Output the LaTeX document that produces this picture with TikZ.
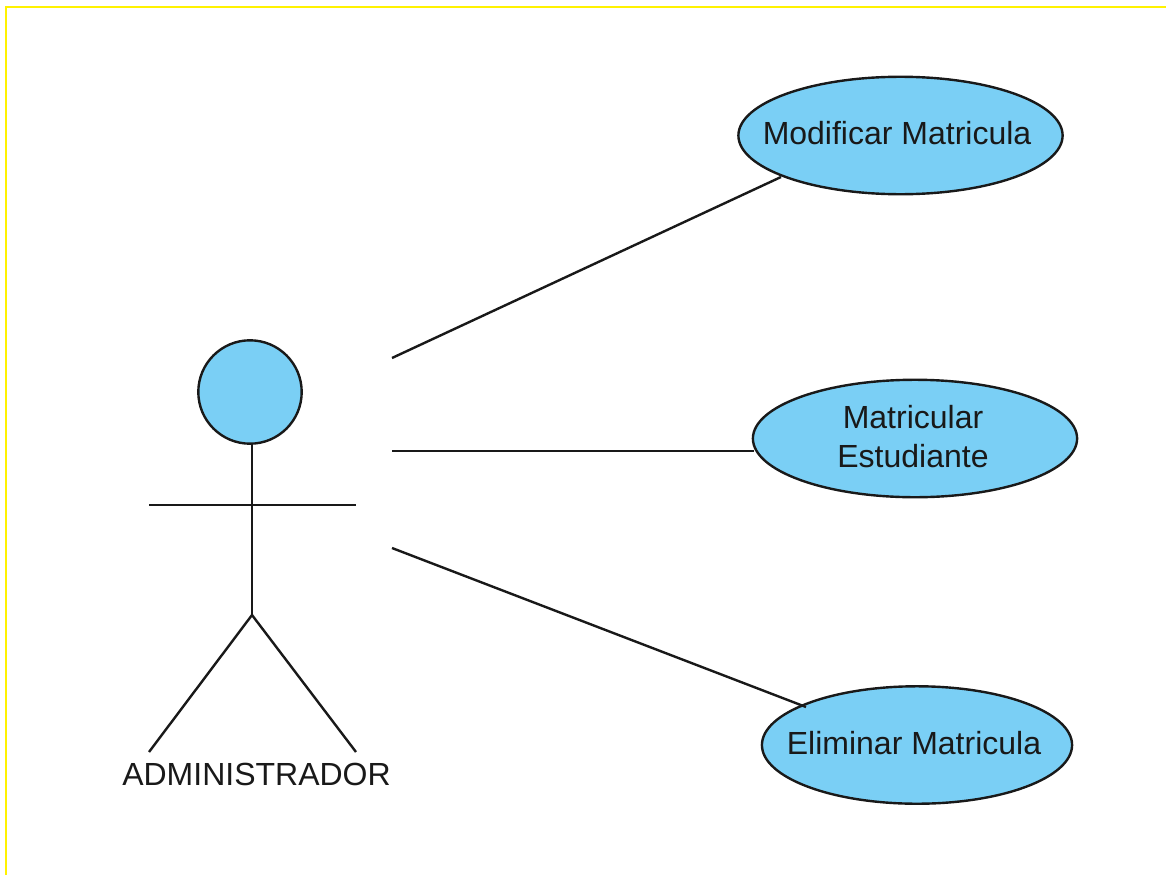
\documentclass[tikz,border=0pt]{standalone}
\usepackage{fontspec}
\setmainfont{Liberation Sans}
\usetikzlibrary{shapes.geometric}
\definecolor{fillblue}{RGB}{122,207,245}
\definecolor{ink}{RGB}{25,25,25}
\newcommand{\uctext}[3]{\raisebox{#2}[0pt][0pt]{\makebox[0pt]{\kern#1\begin{tabular}[b]{@{}c@{}}#3\end{tabular}}}}
\tikzset{x=1pt,y=-1pt,
  usecase/.style={ellipse,draw=ink,fill=fillblue,line width=2.4pt,inner sep=0pt,font=\fontsize{32}{39}\selectfont,text=ink},
  limb/.style={draw=ink,line width=2.4pt},
  assoc/.style={draw=ink,line width=2.4pt}}
\begin{document}
\begin{tikzpicture}
\useasboundingbox (0,0) rectangle (1166,875);
\fill[white] (0,0) rectangle (1166,875);
\draw[yellow,line width=2.8pt] (6,875) -- (6,7) -- (1166,7);
\node[usecase,minimum width=323bp,minimum height=117bp] (mod) at (900.5,135.5) {\uctext{-7pt}{-9pt}{Modificar Matricula}};
\node[usecase,minimum width=323bp,minimum height=117bp] (mat) at (915,438.5) {\uctext{-4pt}{-28.5pt}{Matricular\\Estudiante}};
\node[usecase,minimum width=309bp,minimum height=117bp] (eli) at (917,745) {\uctext{-6pt}{-9pt}{Eliminar Matricula}};
\node[circle,draw=ink,fill=fillblue,line width=2.4pt,minimum size=103bp,inner sep=0pt] (head) at (250,392) {};
\coordinate (hip) at (252,615);
\coordinate (armL) at (149,505);
\coordinate (armR) at (356,505);
\coordinate (footL) at (149,752);
\coordinate (footR) at (356,752);
\coordinate (neck) at (252,443.5);
\draw[limb] (neck) -- (hip);
\draw[limb] (armL) -- (armR);
\draw[limb] (footL) -- (hip) -- (footR);
\node[font=\fontsize{32}{39}\selectfont,text=ink,inner sep=0pt] (lab) at (256.5,774) {ADMINISTRADOR};
\coordinate (a1) at (392,358);
\coordinate (a2) at (392,451);
\coordinate (a3) at (392,548);
\coordinate (e1) at (781,177);
\coordinate (e2) at (754,451);
\coordinate (e3) at (806,707);
\draw[assoc] (a1) -- (e1);
\draw[assoc] (a2) -- (e2);
\draw[assoc] (a3) -- (e3);
\end{tikzpicture}
\end{document}
